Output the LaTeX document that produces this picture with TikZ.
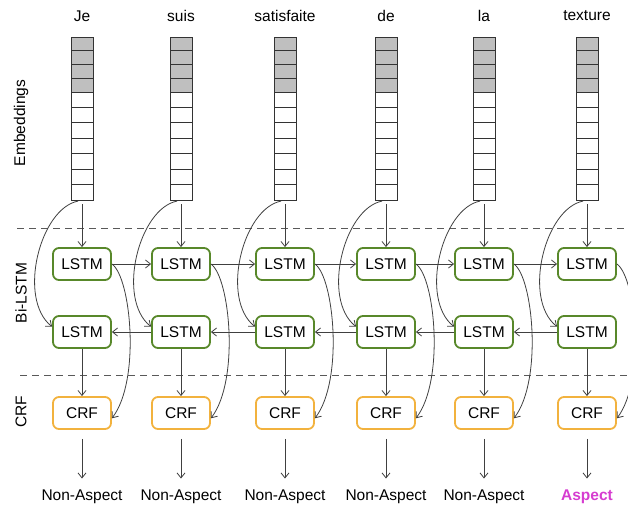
\documentclass[tikz,border=0pt]{standalone}
\usepackage{fontspec}
\setmainfont{Liberation Sans}
\usetikzlibrary{arrows.meta}
\definecolor{lstmgreen}{RGB}{88,136,42}
\definecolor{crforange}{RGB}{242,178,62}
\definecolor{cellgray}{RGB}{191,191,191}
\definecolor{aspectpink}{RGB}{214,60,208}
\tikzset{
	lstm/.style={draw=lstmgreen, line width=1.8pt, rounded corners=6pt, minimum width=58pt, minimum height=32pt, inner sep=0pt},
	crf/.style={draw=crforange, line width=1.8pt, rounded corners=6pt, minimum width=58pt, minimum height=32pt, inner sep=0pt},
	emb/.style={draw=black!80, line width=0.7pt, minimum width=22pt, minimum height=163pt, inner sep=0pt},
	arr/.style={draw=black!75, line width=0.8pt, -{Straight Barb[length=5pt,width=8pt]}},
	sep/.style={draw=black!65, line width=0.9pt, dash pattern=on 7pt off 5pt},
}
\begin{document}
\begin{tikzpicture}[x=1pt, y=-1pt, font=\fontsize{15.5pt}{18pt}\selectfont]
	\useasboundingbox (0,0) rectangle (628,511);
	\node[rotate=90] (lemb) at (21,123) {Embeddings};
	\node[rotate=90] (lbi) at (21,293) {Bi-LSTM};
	\node[rotate=90] (lcrf) at (21,412) {CRF};
	\draw[sep] (17,228) -- (628,228);
	\draw[sep] (20,375) -- (628,375);
	\foreach \i/\x/\w/\l in {1/82/Je/Non-Aspect, 2/181/suis/Non-Aspect, 3/285/satisfaite/Non-Aspect, 4/386/de/Non-Aspect, 5/484/la/Non-Aspect, 6/587/texture/\textcolor{aspectpink}{\textbf{Aspect}}}
	{
		\node (w\i) at (\x,16) {\w};
		\fill[cellgray] (\x-11,37) rectangle (\x+11,92);
		\foreach \y in {50.75,64.5,78.25,92,107.4,122.8,138.2,153.6,169,184.4}
			\draw[black!80, line width=0.7pt] (\x-11,\y) -- (\x+11,\y);
		\node[emb] (e\i) at (\x,118.5) {};
		\node[lstm] (f\i) at (\x,264) {LSTM};
		\node[lstm] (b\i) at (\x,332) {LSTM};
		\node[crf] (c\i) at (\x,413) {CRF};
		\node (o\i) at (\x,497) {\l};
		\draw[arr, shorten <=4pt] (e\i.south) -- (f\i.north);
		\draw[arr, shorten <=4pt] (e\i.south) .. controls +(-42,8) and +(-35,-28) .. (b\i.170);
		\draw[arr] (f\i.east) .. controls +(19,13) and +(29,-38) .. (c\i.-10);
		\draw[arr] (b\i.south) -- (c\i.north);
		\draw[arr, shorten <=9pt, shorten >=8pt] (c\i.south) -- (o\i.north);
	}
	\foreach \i [evaluate=\i as \j using int(\i+1)] in {1,...,5}
	{
		\draw[arr] (f\i.east) -- (f\j.west);
		\draw[arr] (b\j.west) -- (b\i.east);
	}
\end{tikzpicture}
\end{document}
